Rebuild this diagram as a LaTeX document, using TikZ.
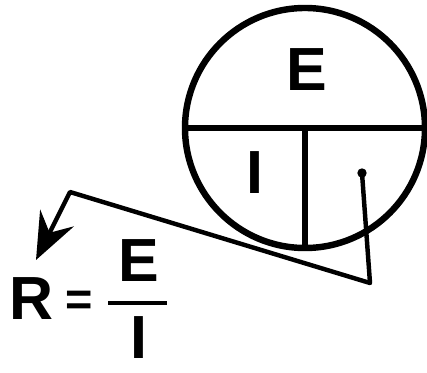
\documentclass[tikz,border=0pt]{standalone}
\usepackage{fontspec}
\setmainfont{Liberation Sans}
\usetikzlibrary{arrows.meta, positioning}
\tikzset{
  dial/.style={draw, circle, line width=5.5pt, minimum size=7.2cm, inner sep=0pt},
  rule/.style={line width=5pt},
  big/.style={font=\fontsize{52}{52}\selectfont\bfseries, inner sep=0pt},
  lead/.style={line width=3.8pt, line join=round},
  arrowlead/.style={lead, -{Stealth[length=40pt, width=32pt, inset=14pt]}},
}
\begin{document}
\begin{tikzpicture}[x=0.03cm, y=-0.03cm]
  \useasboundingbox (0,0) rectangle (427,373);

  % the ohm's law circle
  \node[dial] (wheel) at (305,128) {};
  \draw[rule] (wheel.west) -- (wheel.east);
  \draw[rule] (wheel.center) -- (wheel.south);

  \node[big] (topE) at (307,70) {E};
  \node[big] (leftI) at (255,173) {I};

  % pointer into the empty section
  \coordinate (dot) at (362,173);
  \fill (dot) circle (4pt);
  \coordinate (bendA) at (370,283);
  \coordinate (bendB) at (70,192);
  \coordinate (aim) at (36,260);
  \draw[arrowlead] (dot) -- (bendA) -- (bendB) -- (aim);

  % formula
  \node[big] (resR) at (31,299) {R};
  \node[big, font=\fontsize{40}{40}\selectfont\bfseries] (eq) at (79,303) {=};
  \coordinate (fracL) at (108,303);
  \coordinate (fracR) at (167,303);
  \draw[line width=3.8pt] (fracL) -- (fracR);
  \node[big] (numE) at (139,261) {E};
  \node[big] (denI) at (139,338) {I};
\end{tikzpicture}
\end{document}
